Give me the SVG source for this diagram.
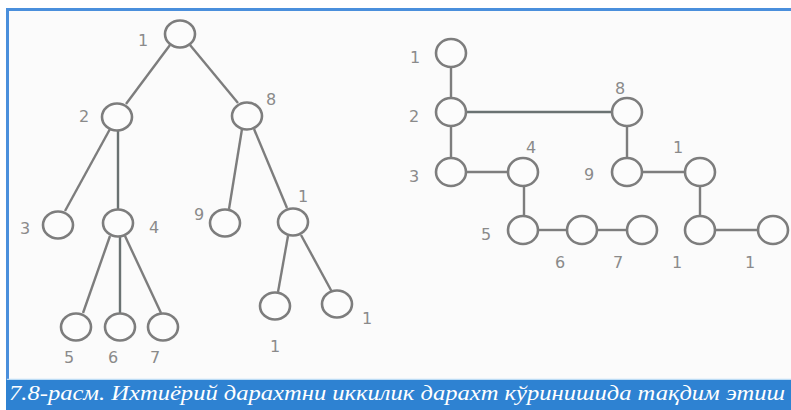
<svg xmlns="http://www.w3.org/2000/svg" width="791" height="410" viewBox="0 0 791 410">
<style>
.n{fill:#fcfcfc;stroke:#7d7d7d;stroke-width:2.6}
.e{stroke:#7d7d7d;stroke-width:2.4;fill:none}
.d{stroke:#6a7272;stroke-width:2.4;fill:none}
.l{font-family:"DejaVu Sans","Liberation Sans",sans-serif;font-size:16px;fill:#8a8a8a}
.cap{font-family:"Liberation Serif",serif;font-style:italic;font-size:20px;fill:#ffffff}
</style>
<rect x="0" y="0" width="791" height="410" fill="#ffffff"/>
<rect x="8" y="11" width="783" height="368" fill="#fbfbfb"/>
<line x1="6" y1="9.5" x2="791" y2="9.5" stroke="#4a8fdc" stroke-width="3"/>
<line x1="7.5" y1="8" x2="7.5" y2="380" stroke="#4a8fdc" stroke-width="3"/>
<line x1="7" y1="379.5" x2="791" y2="379.5" stroke="#bcdcf5" stroke-width="1.5"/>
<rect x="6" y="380" width="785" height="30" fill="#2e82d2"/>
<text class="cap" x="9" y="400" textLength="776" lengthAdjust="spacingAndGlyphs">7.8-расм. Ихтиёрий дарахтни иккилик дарахт кўринишида тақдим этиш</text>

<g id="connectors">
<line class="e" x1="170" y1="45" x2="126" y2="104"/>
<line class="e" x1="190" y1="45" x2="238" y2="103"/>
<line class="e" x1="110" y1="129" x2="65" y2="211"/>
<line class="d" x1="118" y1="130" x2="118" y2="209"/>
<line class="e" x1="242" y1="129" x2="229" y2="209"/>
<line class="e" x1="254" y1="129" x2="287" y2="208"/>
<line class="e" x1="110" y1="236" x2="83" y2="313"/>
<line class="d" x1="120" y1="237" x2="120" y2="313"/>
<line class="e" x1="125" y1="236" x2="161" y2="313"/>
<line class="e" x1="288" y1="236" x2="278" y2="292"/>
<line class="e" x1="301" y1="235" x2="332" y2="292"/>

<line class="e" x1="451" y1="67" x2="451" y2="98"/>
<line class="d" x1="465" y1="112" x2="612" y2="112"/>
<line class="e" x1="451" y1="126" x2="451" y2="158"/>
<line class="e" x1="465" y1="172" x2="508" y2="172"/>
<line class="e" x1="524" y1="186" x2="524" y2="216"/>
<line class="e" x1="538" y1="230" x2="567" y2="230"/>
<line class="e" x1="597" y1="230" x2="627" y2="230"/>
<line class="e" x1="627" y1="126" x2="627" y2="158"/>
<line class="e" x1="642" y1="172" x2="685" y2="172"/>
<line class="e" x1="700" y1="186" x2="700" y2="216"/>
<line class="e" x1="715" y1="230" x2="758" y2="230"/>
</g>

<g id="L1"><ellipse class="n" cx="180" cy="34" rx="15" ry="13.5"/><text class="l" x="138" y="46">1</text></g>
<g id="L2"><ellipse class="n" cx="117" cy="117" rx="15" ry="13.5"/><text class="l" x="79" y="122">2</text></g>
<g id="L8"><ellipse class="n" cx="247" cy="116" rx="15" ry="13.5"/><text class="l" x="266" y="105">8</text></g>
<g id="L3"><ellipse class="n" cx="58" cy="225" rx="15" ry="13.5"/><text class="l" x="20" y="234">3</text></g>
<g id="L4"><ellipse class="n" cx="118" cy="223" rx="15" ry="13.5"/><text class="l" x="149" y="233">4</text></g>
<g id="L9"><ellipse class="n" cx="225" cy="223" rx="15" ry="13.5"/><text class="l" x="194" y="220">9</text></g>
<g id="L1b"><ellipse class="n" cx="293" cy="222" rx="15" ry="13.5"/><text class="l" x="298" y="202">1</text></g>
<g id="L5"><ellipse class="n" cx="76" cy="327" rx="15" ry="13.5"/><text class="l" x="64" y="363">5</text></g>
<g id="L6"><ellipse class="n" cx="120" cy="327" rx="15" ry="13.5"/><text class="l" x="108" y="363">6</text></g>
<g id="L7"><ellipse class="n" cx="163" cy="327" rx="15" ry="13.5"/><text class="l" x="150" y="363">7</text></g>
<g id="L1c"><ellipse class="n" cx="275" cy="306" rx="15" ry="13.5"/><text class="l" x="270" y="352">1</text></g>
<g id="L1d"><ellipse class="n" cx="337" cy="304" rx="15" ry="13.5"/><text class="l" x="362" y="324">1</text></g>

<g id="R1"><ellipse class="n" cx="451" cy="53" rx="15" ry="14"/><text class="l" x="410" y="63">1</text></g>
<g id="R2"><ellipse class="n" cx="451" cy="112" rx="15" ry="14"/><text class="l" x="409" y="122">2</text></g>
<g id="R8"><ellipse class="n" cx="627" cy="112" rx="15" ry="14"/><text class="l" x="615" y="94">8</text></g>
<g id="R3"><ellipse class="n" cx="451" cy="172" rx="15" ry="14"/><text class="l" x="409" y="182">3</text></g>
<g id="R4"><ellipse class="n" cx="523" cy="172" rx="15" ry="14"/><text class="l" x="526" y="153">4</text></g>
<g id="R9"><ellipse class="n" cx="627" cy="172" rx="15" ry="14"/><text class="l" x="584" y="180">9</text></g>
<g id="R1b"><ellipse class="n" cx="700" cy="172" rx="15" ry="14"/><text class="l" x="673" y="153">1</text></g>
<g id="R5"><ellipse class="n" cx="523" cy="230" rx="15" ry="14"/><text class="l" x="481" y="240">5</text></g>
<g id="R6"><ellipse class="n" cx="582" cy="230" rx="15" ry="14"/><text class="l" x="555" y="268">6</text></g>
<g id="R7"><ellipse class="n" cx="642" cy="230" rx="15" ry="14"/><text class="l" x="613" y="268">7</text></g>
<g id="R1c"><ellipse class="n" cx="700" cy="230" rx="15" ry="14"/><text class="l" x="672" y="268">1</text></g>
<g id="R1d"><ellipse class="n" cx="773" cy="230" rx="15" ry="14"/><text class="l" x="745" y="268">1</text></g>
</svg>
